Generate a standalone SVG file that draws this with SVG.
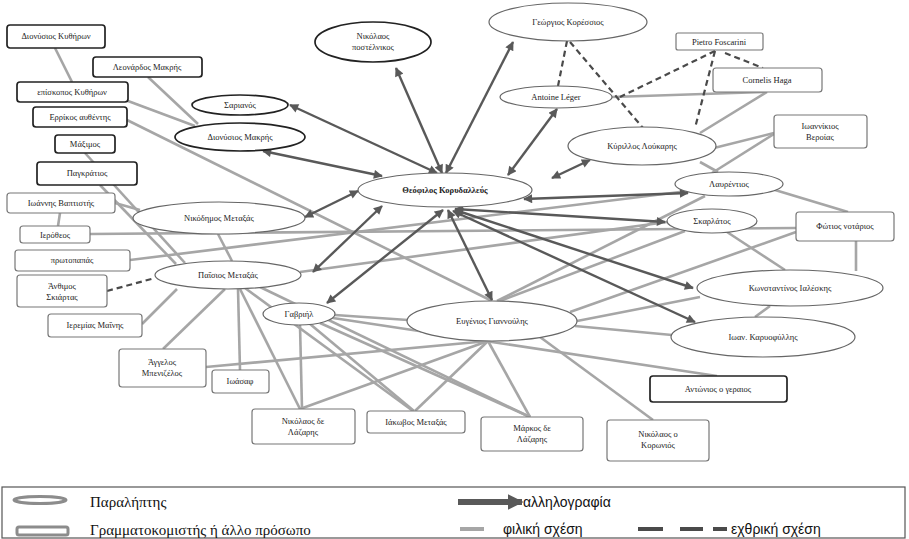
<svg xmlns="http://www.w3.org/2000/svg" width="909" height="539" viewBox="0 0 909 539">
<style>
.bg{fill:#fff}
.fr{stroke:#a6a6a6;stroke-width:2.6;fill:none}
.ar{stroke:#595959;stroke-width:2.4;fill:none;marker-start:url(#ah);marker-end:url(#ah)}
.hs{stroke:#4a4a4a;stroke-width:2.2;fill:none;stroke-dasharray:6 4}
.el{fill:#fff;stroke:#666;stroke-width:1.2}
.eld{fill:#fff;stroke:#222;stroke-width:1.7}
.bx{fill:#fff;stroke:#777;stroke-width:1.2}
.bxd{fill:#fff;stroke:#222;stroke-width:1.7}
text{font-family:"Liberation Serif","DejaVu Serif",serif;font-size:8.5px;fill:#222;text-anchor:middle}
.b{font-weight:bold}
.lg{font-family:"Liberation Serif","DejaVu Serif",serif;font-size:15px;text-anchor:start;fill:#111}
.ls{font-family:"Liberation Sans",Arial,sans-serif;font-size:14px;text-anchor:start;fill:#111}
</style>
<defs>
<marker id="ah" viewBox="0 0 10 10" refX="9" refY="5" markerWidth="10" markerHeight="9" markerUnits="userSpaceOnUse" orient="auto-start-reverse">
<path d="M0,0 L10,5 L0,10 z" fill="#595959"/>
</marker>
<marker id="lah" viewBox="0 0 10 10" refX="9" refY="5" markerWidth="16" markerHeight="16" markerUnits="userSpaceOnUse" orient="auto">
<path d="M0,0 L10,5 L0,10 z" fill="#595959"/>
</marker>
</defs>
<rect class="bg" x="0" y="0" width="909" height="539"/>

<g id="connectors">
<!-- friendly -->
<line class="fr" x1="55" y1="48" x2="72" y2="82"/>
<line class="fr" x1="148" y1="77" x2="198" y2="124"/>
<line class="fr" x1="128" y1="101" x2="195" y2="126"/>
<line class="fr" x1="127" y1="120" x2="492" y2="301"/>
<line class="fr" x1="85" y1="153" x2="185" y2="263"/>
<line class="fr" x1="100" y1="185" x2="176" y2="264"/>
<line class="fr" x1="115" y1="203" x2="140" y2="210"/>
<line class="fr" x1="60" y1="213" x2="58" y2="226"/>
<line class="fr" x1="90" y1="234" x2="796" y2="228"/>
<line class="fr" x1="130" y1="260" x2="680" y2="192"/>
<line class="fr" x1="142" y1="324" x2="177" y2="289"/>
<line class="fr" x1="218" y1="234" x2="232" y2="261"/>
<line class="fr" x1="225" y1="289" x2="163" y2="349"/>
<line class="fr" x1="238" y1="289" x2="240" y2="370"/>
<line class="fr" x1="240" y1="289" x2="300" y2="409"/>
<line class="fr" x1="245" y1="288" x2="413" y2="411"/>
<line class="fr" x1="260" y1="287" x2="530" y2="417"/>
<line class="fr" x1="300" y1="272" x2="667" y2="222"/>
<line class="fr" x1="300" y1="325" x2="302" y2="409"/>
<line class="fr" x1="310" y1="324" x2="414" y2="411"/>
<line class="fr" x1="320" y1="323" x2="530" y2="417"/>
<line class="fr" x1="335" y1="315" x2="408" y2="320"/>
<line class="fr" x1="333" y1="318" x2="717" y2="376"/>
<line class="fr" x1="206" y1="367" x2="488" y2="341"/>
<line class="fr" x1="488" y1="341" x2="300" y2="409"/>
<line class="fr" x1="488" y1="341" x2="415" y2="411"/>
<line class="fr" x1="488" y1="341" x2="530" y2="417"/>
<line class="fr" x1="540" y1="337" x2="653" y2="420"/>
<line class="fr" x1="497" y1="301" x2="705" y2="196"/>
<line class="fr" x1="500" y1="301" x2="685" y2="231"/>
<line class="fr" x1="577" y1="321" x2="700" y2="297"/>
<line class="fr" x1="575" y1="326" x2="672" y2="335"/>
<line class="fr" x1="612" y1="97" x2="765" y2="92"/>
<line class="fr" x1="767" y1="92" x2="700" y2="133"/>
<line class="fr" x1="774" y1="133" x2="714" y2="148"/>
<line class="fr" x1="774" y1="134" x2="712" y2="173"/>
<line class="fr" x1="775" y1="190" x2="848" y2="212"/>
<line class="fr" x1="856" y1="241" x2="856" y2="271"/>
<line class="fr" x1="727" y1="232" x2="785" y2="270"/>
<line class="fr" x1="796" y1="232" x2="570" y2="312"/>
<line class="fr" x1="770" y1="306" x2="755" y2="317"/>
<line class="fr" x1="700" y1="162" x2="718" y2="172"/>
<!-- hostile -->
<line class="hs" x1="567" y1="41" x2="558" y2="86"/>
<line class="hs" x1="570" y1="42" x2="643" y2="128"/>
<line class="hs" x1="715" y1="51" x2="620" y2="97"/>
<line class="hs" x1="715" y1="51" x2="695" y2="128"/>
<line class="hs" x1="725" y1="53" x2="763" y2="68"/>
<line class="hs" x1="107" y1="291" x2="155" y2="278"/>
<!-- correspondence -->
<line class="ar" x1="442" y1="173" x2="396" y2="68"/>
<line class="ar" x1="446" y1="173" x2="513" y2="42"/>
<line class="ar" x1="508" y1="175" x2="557" y2="109"/>
<line class="ar" x1="552" y1="178" x2="590" y2="160"/>
<line class="ar" x1="437" y1="173" x2="290" y2="105"/>
<line class="ar" x1="382" y1="176" x2="263" y2="151"/>
<line class="ar" x1="358" y1="191" x2="305" y2="217"/>
<line class="ar" x1="382" y1="206" x2="313" y2="272"/>
<line class="ar" x1="443" y1="210" x2="327" y2="303"/>
<line class="ar" x1="448" y1="210" x2="492" y2="300"/>
<line class="ar" x1="524" y1="199" x2="688" y2="193"/>
<line class="ar" x1="455" y1="209" x2="665" y2="222"/>
<line class="ar" x1="455" y1="210" x2="693" y2="288"/>
<line class="ar" x1="453" y1="211" x2="695" y2="322"/>
</g>

<g id="n-postelnikos"><ellipse class="eld" cx="373" cy="42" rx="58" ry="20"/><text x="373" y="39">Νικόλαος</text><text x="373" y="50">ποστέλνικος</text></g>
<g id="n-koressios"><ellipse class="el" cx="568" cy="22" rx="79" ry="19"/><text x="568" y="25">Γεώργιος Κορέσσιος</text></g>
<g id="n-leger"><ellipse class="el" cx="556" cy="97" rx="56" ry="11"/><text x="556" y="100">Antoine Léger</text></g>
<g id="n-loukaris"><ellipse class="el" cx="642" cy="146" rx="74" ry="19"/><text x="642" y="149">Κύριλλος  Λούκαρης</text></g>
<g id="n-sarianos"><ellipse class="eld" cx="240" cy="105" rx="48" ry="10"/><text x="240" y="108">Σαριανός</text></g>
<g id="n-dionysios"><ellipse class="eld" cx="240" cy="137" rx="65" ry="14"/><text x="240" y="140">Διονύσιος Μακρής</text></g>
<g id="n-korydalleus"><ellipse class="el" cx="445" cy="190" rx="87" ry="17"/><text class="b" x="445" y="193">Θεόφιλος Κορυδαλλεύς</text></g>
<g id="n-nikodimos"><ellipse class="el" cx="219" cy="218" rx="86" ry="16"/><text x="219" y="221">Νικόδημος Μεταξάς</text></g>
<g id="n-paisios"><ellipse class="el" cx="228" cy="275" rx="73" ry="14"/><text x="228" y="278">Παΐσιος Μεταξάς</text></g>
<g id="n-gavriil"><ellipse class="el" cx="299" cy="314" rx="36" ry="11"/><text x="299" y="317">Γαβριήλ</text></g>
<g id="n-evgenios"><ellipse class="el" cx="492" cy="321" rx="85" ry="20"/><text x="492" y="324">Ευγένιος Γιαννούλης</text></g>
<g id="n-lavrentios"><ellipse class="el" cx="729" cy="184" rx="54" ry="12"/><text x="729" y="187">Λαυρέντιος</text></g>
<g id="n-skarlatos"><ellipse class="el" cx="712" cy="221" rx="45" ry="12"/><text x="712" y="224">Σκαρλάτος</text></g>
<g id="n-konstantinos"><ellipse class="el" cx="790" cy="288" rx="93" ry="18"/><text x="790" y="291">Κωνσταντίνος Ιαλέσκης</text></g>
<g id="n-karyofyllis"><ellipse class="el" cx="763" cy="337" rx="92" ry="20"/><text x="763" y="340">Ιωαν. Καρυοφύλλης</text></g>

<g id="n-kythiron"><rect class="bxd" x="7" y="25" width="98" height="23" rx="3"/><text x="56" y="39">Διονύσιος Κυθήρων</text></g>
<g id="n-leonardos"><rect class="bxd" x="93" y="57" width="109" height="20" rx="3"/><text x="147" y="70">Λεονάρδος Μακρής</text></g>
<g id="n-episkopos"><rect class="bxd" x="17" y="82" width="111" height="20" rx="3"/><text x="72" y="95">επίσκοπος  Κυθήρων</text></g>
<g id="n-errikos"><rect class="bxd" x="33" y="107" width="94" height="20" rx="3"/><text x="80" y="120">Ερρίκος αυθέντης</text></g>
<g id="n-maximos"><rect class="bxd" x="55" y="135" width="60" height="18" rx="3"/><text x="85" y="147">Μάξιμος</text></g>
<g id="n-pankratios"><rect class="bxd" x="37" y="162" width="100" height="23" rx="3"/><text x="87" y="176">Παγκράτιος</text></g>
<g id="n-vaptistis"><rect class="bx" x="7" y="193" width="108" height="20" rx="3"/><text x="61" y="206">Ιωάννης Βαπτιστής</text></g>
<g id="n-ierotheos"><rect class="bx" x="20" y="226" width="70" height="17" rx="3"/><text x="55" y="238">Ιερόθεος</text></g>
<g id="n-protopapas"><rect class="bx" x="15" y="250" width="115" height="21" rx="3"/><text x="72" y="263">πρωτοπαπάς</text></g>
<g id="n-anthimos"><rect class="bx" x="17" y="275" width="90" height="32" rx="3"/><text x="62" y="289">Άνθιμος</text><text x="62" y="300">Σκιάρτας</text></g>
<g id="n-ieremias"><rect class="bx" x="48" y="314" width="94" height="23" rx="3"/><text x="95" y="328">Ιερεμίας Μαΐνης</text></g>
<g id="n-angelos"><rect class="bx" x="119" y="349" width="87" height="38" rx="3"/><text x="162" y="365">Άγγελος</text><text x="162" y="376">Μπενιζέλος</text></g>
<g id="n-ioasaf"><rect class="bx" x="212" y="370" width="57" height="23" rx="3"/><text x="240" y="384">Ιωάσαφ</text></g>
<g id="n-nikolaos-lazaris"><rect class="bx" x="252" y="409" width="103" height="35" rx="3"/><text x="303" y="424">Νικόλαος δε</text><text x="303" y="435">Λάζαρης</text></g>
<g id="n-iakovos"><rect class="bx" x="367" y="411" width="98" height="22" rx="3"/><text x="416" y="425">Ιάκωβος Μεταξάς</text></g>
<g id="n-markos"><rect class="bx" x="481" y="417" width="102" height="34" rx="3"/><text x="532" y="431">Μάρκος δε</text><text x="532" y="442">Λάζαρης</text></g>
<g id="n-nikolaos-k"><rect class="bx" x="607" y="420" width="102" height="41" rx="3"/><text x="658" y="437">Νικόλαος ο</text><text x="658" y="448">Κορωνιός</text></g>
<g id="n-antonios"><rect class="bxd" x="650" y="376" width="137" height="26" rx="3"/><text x="718" y="392">Αντώνιος ο γεραιος</text></g>
<g id="n-pietro"><rect class="bx" x="676" y="33" width="87" height="17" rx="2"/><text x="719" y="45">Pietro Foscarini</text></g>
<g id="n-cornelis"><rect class="bx" x="713" y="68" width="109" height="24" rx="3"/><text x="767" y="83">Cornelis Haga</text></g>
<g id="n-ioannikios"><rect class="bx" x="774" y="115" width="93" height="33" rx="3"/><text x="820" y="129">Ιωαννίκιος</text><text x="820" y="140">Βεροίας</text></g>
<g id="n-fotios"><rect class="bx" x="796" y="212" width="98" height="29" rx="3"/><text x="845" y="229">Φώτιος νοτάριος</text></g>

<g id="legend">
<rect x="2" y="487" width="903" height="51" fill="#fff" stroke="#555" stroke-width="1.2"/>
<ellipse cx="40" cy="500" rx="26" ry="3.5" fill="none" stroke="#8c8c8c" stroke-width="3"/>
<text class="lg" x="90" y="507">Παραλήπτης</text>
<rect x="17" y="527" width="51" height="8" rx="2" fill="none" stroke="#8c8c8c" stroke-width="3"/>
<text class="lg" x="90" y="535">Γραμματοκομιστής ή άλλο πρόσωπο</text>
<line x1="458" y1="502" x2="522" y2="502" stroke="#595959" stroke-width="6" marker-end="url(#lah)"/>
<text class="ls" x="523" y="507">αλληλογραφία</text>
<line x1="460" y1="529" x2="484" y2="529" stroke="#a6a6a6" stroke-width="4"/>
<text class="ls" x="503" y="534">φιλική σχέση</text>
<line x1="638" y1="529" x2="663" y2="529" stroke="#4a4a4a" stroke-width="4"/>
<line x1="680" y1="529" x2="703" y2="529" stroke="#4a4a4a" stroke-width="4"/>
<line x1="713" y1="529" x2="727" y2="529" stroke="#4a4a4a" stroke-width="4"/>
<text class="ls" x="731" y="534">εχθρική σχέση</text>
</g>
</svg>
